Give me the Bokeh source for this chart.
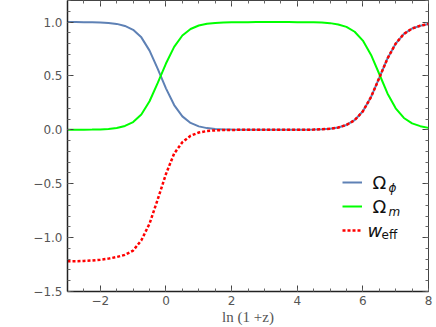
from bokeh.plotting import figure
from bokeh.models import (Range1d, FixedTicker, LinearAxis, Legend, LegendItem, Label,
                          CustomJSTickFormatter)
from bokeh.embed import file_html
from bokeh.resources import INLINE

# ---- data ----
x_vals = [-3.0, -2.75, -2.5, -2.25, -2.0, -1.75, -1.5, -1.25, -1.0, -0.75, -0.5, -0.25,
          0.0, 0.25, 0.5, 0.75, 1.0, 1.25, 1.5, 1.75, 2.0, 2.25, 2.5, 2.75, 3.0, 3.25,
          3.5, 3.75, 4.0, 4.25, 4.5, 4.75, 5.0, 5.25, 5.5, 5.75, 6.0, 6.25, 6.5, 6.75,
          7.0, 7.25, 7.5, 7.75, 8.0]
omega_phi = [1.000, 1.000, 0.999, 0.998, 0.996, 0.992, 0.983, 0.964, 0.928, 0.858, 0.735, 0.565,
             0.385, 0.230, 0.125, 0.064, 0.032, 0.016, 0.008, 0.004, 0.002, 0.001, 0.001, 0.000,
             0.000, 0.000, 0.000, 0.000, 0.001, 0.001, 0.002, 0.005, 0.010, 0.022, 0.045, 0.090,
             0.172, 0.305, 0.482, 0.662, 0.800, 0.890, 0.940, 0.966, 0.982]
omega_m = [0.000, 0.000, 0.001, 0.002, 0.004, 0.008, 0.017, 0.036, 0.072, 0.142, 0.265, 0.435,
           0.615, 0.770, 0.875, 0.936, 0.968, 0.984, 0.992, 0.996, 0.998, 0.999, 0.999, 1.000,
           1.000, 1.000, 1.000, 1.000, 0.999, 0.999, 0.998, 0.995, 0.990, 0.978, 0.955, 0.910,
           0.828, 0.695, 0.518, 0.338, 0.200, 0.110, 0.060, 0.034, 0.018]
w_eff = [-1.220, -1.219, -1.216, -1.212, -1.205, -1.195, -1.180, -1.160, -1.120, -1.025, -0.870, -0.645,
         -0.410, -0.220, -0.115, -0.055, -0.025, -0.011, -0.005, -0.002, -0.001, 0.000, 0.000, 0.000,
         0.000, 0.000, 0.000, 0.000, 0.001, 0.001, 0.002, 0.005, 0.010, 0.022, 0.045, 0.090,
         0.172, 0.305, 0.482, 0.662, 0.800, 0.890, 0.940, 0.966, 0.982]

x_ticks = [-2, 0, 2, 4, 6, 8]
x_tick_labels = ["\u22122", "0", "2", "4", "6", "8"]
y_ticks = [-1.5, -1.0, -0.5, 0.0, 0.5, 1.0]
y_tick_labels = ["\u22121.5", "\u22121.0", "\u22120.5", "0.0", "0.5", "1.0"]
x_minor = [v / 2 for v in range(-6, 17)]
y_minor = [v / 10 for v in range(-15, 13)]
x_label = "ln (1 +z)"

GRAY = "#555555"
p = figure(width=436, height=327, output_backend="svg", toolbar_location=None,
           x_range=Range1d(-3, 8), y_range=Range1d(-1.5, 1.2),
           min_border_left=67, min_border_right=8, min_border_top=0, min_border_bottom=0)
p.xgrid.visible = False
p.ygrid.visible = False
p.outline_line_color = "#444444"
p.outline_line_width = 1
p.background_fill_color = "white"
p.border_fill_color = "white"

xt = FixedTicker(ticks=x_ticks, minor_ticks=x_minor)
yt = FixedTicker(ticks=y_ticks, minor_ticks=y_minor)

def style(ax, labels=True):
    ax.major_tick_in = 6
    ax.major_tick_out = 0
    ax.minor_tick_in = 3
    ax.minor_tick_out = 0
    ax.major_tick_line_color = "#444444"
    ax.minor_tick_line_color = "#666666"
    ax.axis_line_color = "#222222"
    ax.axis_line_width = 1.5
    if labels:
        ax.major_label_text_font = "DejaVu Sans"
        ax.major_label_text_font_size = "12px"
        ax.major_label_text_color = GRAY
        ax.major_label_standoff = 5
    else:
        ax.formatter = CustomJSTickFormatter(code="return ''")
        ax.major_label_standoff = 0
        ax.axis_line_color = None

xa = p.xaxis[0]
xa.ticker = xt
xa.major_label_overrides = {t: l for t, l in zip(x_ticks, x_tick_labels)}
style(xa)
xa.major_label_standoff = 4
xa.axis_label = x_label
xa.axis_label_text_font = "Liberation Serif"
xa.axis_label_text_font_style = "normal"
xa.axis_label_text_font_size = "15px"
xa.axis_label_text_color = GRAY
xa.axis_label_standoff = 1

ya = p.yaxis[0]
ya.ticker = yt
ya.major_label_overrides = {t: l for t, l in zip(y_ticks, y_tick_labels)}
style(ya)

top_ax = LinearAxis(ticker=FixedTicker(ticks=x_ticks, minor_ticks=x_minor))
style(top_ax, labels=False)
p.add_layout(top_ax, "above")
right_ax = LinearAxis(ticker=FixedTicker(ticks=y_ticks, minor_ticks=y_minor))
style(right_ax, labels=False)
p.add_layout(right_ax, "right")

r_phi = p.line(x_vals, omega_phi, line_color="#5E81B5", line_width=2)
r_m = p.line(x_vals, omega_m, line_color="#00FF00", line_width=2)
r_w = p.line(x_vals, w_eff, line_color="#FF0000", line_width=2.5, line_dash="3 2")

legend = Legend(items=[LegendItem(label=" ", renderers=[r_phi]),
                       LegendItem(label=" ", renderers=[r_m]),
                       LegendItem(label=" ", renderers=[r_w])],
                location=(275, 51), orientation="vertical",
                glyph_width=20, glyph_height=20, label_height=20, label_width=0,
                label_standoff=0, spacing=4, padding=0, margin=0,
                background_fill_alpha=0, border_line_alpha=0, label_text_font_size="17px")
p.add_layout(legend)

big = "18px"
small = "12px"
def lab(x, y, t, size, style_="normal"):
    p.add_layout(Label(x=x, y=y, x_units="screen", y_units="screen", text=t,
                       text_font="DejaVu Sans", text_font_size=size, text_font_style=style_,
                       text_color="#111111", text_baseline="middle", text_align="left"))

lab(305, 109, "\u03a9", big)
lab(321, 104, "\u03d5", small, "italic")
lab(305, 85, "\u03a9", big)
lab(321, 80, "m", small, "italic")
lab(300, 61, "w", big, "italic")
lab(314, 57, "eff", small)

open("out.html", "w").write(file_html(p, INLINE))
